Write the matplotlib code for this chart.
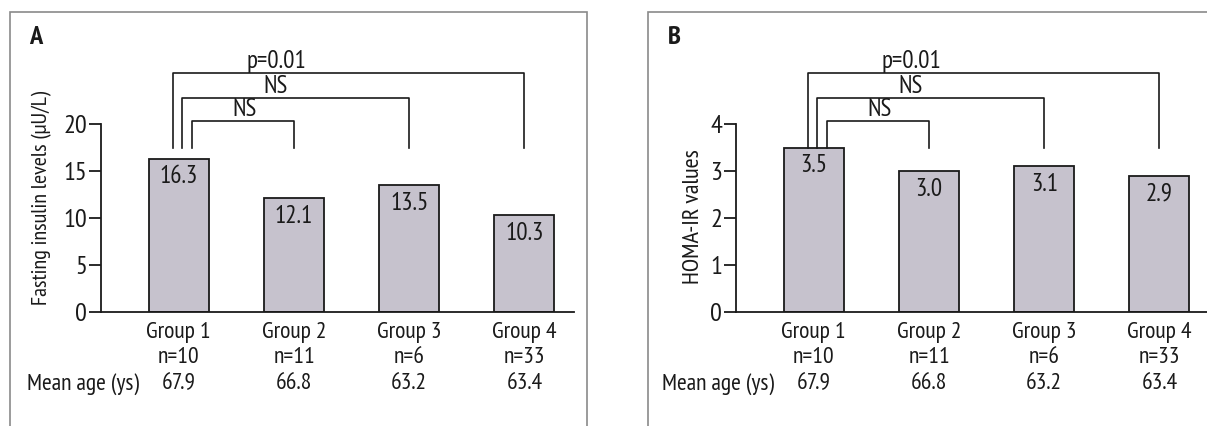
import numpy as np
import matplotlib.pyplot as plt
from matplotlib.patches import Rectangle

# data
groups = ["Group 1", "Group 2", "Group 3", "Group 4"]
n_sizes = ["n=10", "n=11", "n=6", "n=33"]
mean_ages = ["67.9", "66.8", "63.2", "63.4"]
insulin = [16.3, 12.1, 13.5, 10.3]
homa = [3.5, 3.0, 3.1, 2.9]
# comparisons: (group a, group b, label)
comparisons = [(0, 1, "NS"), (0, 2, "NS"), (0, 3, "p=0.01")]

plt.rcParams["font.family"] = ["PT Sans Narrow", "Roboto Condensed", "IBM Plex Sans Condensed", "DejaVu Sans"]
plt.rcParams["font.size"] = 15

bar_color = "#c6c2cd"
ink = "#1a1a1a"
W, H = 1207, 426
fig = plt.figure(figsize=(W / 100, H / 100), dpi=100)
fig.patch.set_facecolor("white")

# panel frames
fig.add_artist(Rectangle((10 / W, -0.1), 577 / W, 1.1 - 12 / H, transform=fig.transFigure,
                         fill=False, edgecolor="#8a8a8a", lw=1.2))
fig.add_artist(Rectangle((648 / W, -0.1), 0.6, 1.1 - 12 / H, transform=fig.transFigure,
                         fill=False, edgecolor="#8a8a8a", lw=1.2))

x = np.arange(len(groups))


def draw_panel(left_px, values, ymax, tick_step, ylabel, ylab_size, ylab_dx, ylab_cy):
    bottom_px, height_px, width_px = 312, 282, 473
    ax = fig.add_axes([left_px / W, 1 - bottom_px / H, width_px / W, height_px / H])
    ax.set_facecolor("none")
    ax.bar(x, values, width=0.52, color=bar_color, edgecolor=ink, lw=1.3, zorder=2)
    ax.set_xlim(-0.675, 3.43)
    ax.set_ylim(0, ymax * 1.5)
    ax.set_yticks(np.arange(0, ymax + 0.01, tick_step))
    ax.spines["left"].set_bounds(0, ymax)
    for s in ["top", "right"]:
        ax.spines[s].set_visible(False)
    for s in ["left", "bottom"]:
        ax.spines[s].set_linewidth(1.3)
        ax.spines[s].set_color(ink)
    ax.set_xticks([])
    ax.tick_params(axis="y", length=9, width=1.3, pad=1, labelsize=19, colors=ink)

    # value labels inside bars
    for xi, v in zip(x, values):
        ax.annotate(f"{v:.1f}", (xi, v), xytext=(0, -13), textcoords="offset points",
                    ha="center", va="center", fontsize=18, color=ink)

    # group labels under axis
    tr = ax.get_xaxis_transform()
    for xi, g, n, age in zip(x, groups, n_sizes, mean_ages):
        ax.text(xi, -0.071, g, transform=tr, ha="center", va="center", fontsize=17, color=ink)
        ax.text(xi, -0.163, n, transform=tr, ha="center", va="center", fontsize=17, color=ink)
        ax.text(xi, -0.255, age, transform=tr, ha="center", va="center", fontsize=17, color=ink)
    ax.text(-1.32, -0.255, "Mean age (ys)", transform=tr, ha="left", va="center", fontsize=17, color=ink)

    # significance brackets
    leg_bottom = ymax * 0.875
    offsets = [0.115, 0.028, -0.052]
    tops = [1.015, 1.14, 1.27]
    text_x = [0.57, 0.84, 0.85]
    for (a, b, lab), off, top, tx in zip(comparisons, offsets, tops, text_x):
        yt = ymax * top
        ax.plot([a + off, a + off, b, b], [leg_bottom, yt, yt, leg_bottom],
                color=ink, lw=1.2, clip_on=False)
        ax.text(tx, yt, lab, ha="center", va="bottom", fontsize=18, color=ink)

    ax.set_ylabel(ylabel, fontsize=ylab_size, color=ink)
    ax.yaxis.set_label_coords(ylab_dx / width_px, (bottom_px - ylab_cy) / height_px)
    return ax


draw_panel(101, insulin, 20, 5, "Fasting insulin levels (µU/L)", 16, -49, 198)
draw_panel(736, homa, 4, 1, "HOMA-IR values", 17.5, -32, 217)

fig.text(36 / W, 1 - 38 / H, "A", ha="center", va="center", fontsize=19, fontweight="bold", color=ink)
fig.text(674 / W, 1 - 37 / H, "B", ha="center", va="center", fontsize=19, fontweight="bold", color=ink)

fig.savefig("out.png", dpi=100)
